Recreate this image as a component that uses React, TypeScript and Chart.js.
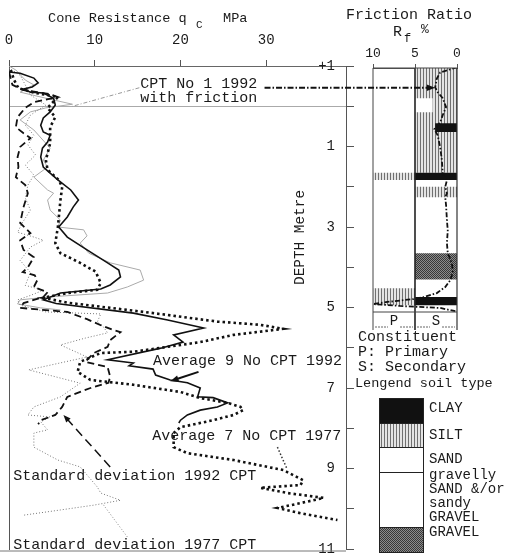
import React, { useEffect, useRef } from 'react';
import { Chart, registerables } from 'chart.js';

Chart.register(...registerables);

const MONO = '"Liberation Mono", "DejaVu Sans Mono", monospace';

// ---------- Cone resistance profiles: [depth (m), qc (MPa)] ----------
const avg1992CPT: [number, number][] = [
  [-0.85, 0], [-0.82, 1.3], [-0.7, 2.9], [-0.58, 3.4], [-0.48, 2.7], [-0.43, 1.7], [-0.35, 2.5], [-0.33, 4.0],
  [-0.2, 5.2], [-0.03, 5.4], [0.14, 4.8], [0.29, 4.0], [0.47, 3.7], [0.64, 4.0], [0.72, 4.8], [0.89, 4.5],
  [1.04, 3.9], [1.26, 3.7], [1.51, 4.0], [1.66, 4.8], [1.83, 5.7], [2.08, 7.2], [2.33, 8.1], [2.5, 7.5],
  [2.75, 6.8], [3.0, 5.8], [3.25, 6.8], [3.57, 9.1], [3.89, 11.5], [4.07, 12.8], [4.24, 13.0], [4.44, 11.8],
  [4.54, 10.7], [4.64, 6.0], [4.81, 4.0], [4.9, 5.5], [5.14, 14.5], [5.31, 18.5], [5.51, 22.7], [5.68, 19.2],
  [5.86, 20.3], [6.01, 17.7], [6.3, 11.5], [6.38, 14.5], [6.45, 14.0], [6.53, 16.8], [6.68, 17.1], [6.8, 18.8],
  [6.87, 20.8], [7.0, 22.3], [7.22, 22.0], [7.24, 23.8], [7.37, 25.5], [7.47, 24.3], [7.55, 22.3], [7.67, 20.8],
  [7.8, 20.0], [7.87, 19.8],
];
const avg1977CPT: [number, number][] = [
  [-0.9, 0.2], [-0.65, 0.6], [-0.45, 1.1], [-0.33, 3.1], [-0.23, 5.7], [0.04, 4.5], [0.27, 5.4], [0.52, 4.8],
  [0.92, 4.8], [1.34, 4.3], [1.58, 4.5], [1.83, 5.8], [2.01, 6.2], [2.33, 6.0], [3.0, 5.7], [3.4, 5.4],
  [3.65, 6.0], [3.89, 8.3], [4.11, 10.1], [4.39, 10.7], [4.56, 10.3], [4.64, 6.8], [4.76, 4.0], [4.88, 6.8],
  [5.13, 16.5], [5.35, 24.3], [5.43, 29.3], [5.53, 32.0], [5.68, 26.2], [5.86, 22.3], [6.1, 14.5], [6.13, 10.7],
  [6.35, 8.3], [6.6, 8.0], [6.8, 9.5], [6.92, 14.5], [7.1, 20.0], [7.25, 22.3], [7.37, 25.5], [7.47, 27.0],
  [7.55, 27.3], [7.67, 26.2], [7.8, 23.8], [7.92, 21.2], [7.97, 20.0], [8.12, 19.2], [8.47, 19.2], [8.62, 20.8],
  [8.79, 26.2], [9.04, 32.0], [9.29, 34.3], [9.41, 34.0], [9.48, 29.3], [9.61, 32.5], [9.73, 36.7], [9.86, 34.0],
  [9.98, 31.3], [10.11, 34.0], [10.28, 38.3],
];
const std1992CPT: [number, number][] = [
  [-0.85, 0], [-0.53, 0.4], [-0.4, 1.7], [-0.35, 3.3], [-0.3, 4.8], [-0.23, 5.7], [-0.1, 2.9], [0.04, 1.9],
  [0.27, 1.0], [0.52, 0.8], [0.67, 1.7], [0.79, 2.5], [1.01, 1.3], [1.26, 1.0], [1.51, 1.1], [1.76, 0.8],
  [1.96, 1.9], [2.16, 2.2], [2.5, 1.7], [2.9, 1.3], [3.15, 2.5], [3.33, 1.3], [3.57, 1.7], [3.75, 2.9],
  [4.0, 2.2], [4.12, 1.6], [4.2, 3.0], [4.32, 3.3], [4.49, 2.9], [4.62, 4.5], [4.74, 4.0], [4.89, 1.7],
  [5.01, 1.3], [5.11, 6.8], [5.29, 9.1], [5.44, 10.7], [5.56, 12.2], [5.61, 13.0], [5.81, 11.8], [5.98, 11.5],
  [6.13, 9.9], [6.35, 8.9], [6.48, 11.5], [6.72, 11.8], [6.87, 11.6], [7.0, 9.5], [7.22, 6.8], [7.47, 6.2],
  [7.67, 5.4], [7.8, 3.7], [7.9, 3.4],
];
const std1977CPT: [number, number][] = [
  [-0.95, 0], [-0.77, 1.3], [-0.53, 1.9], [-0.28, 2.5], [-0.03, 4.3], [0.22, 2.5], [0.47, 1.9], [0.72, 2.9],
  [0.96, 2.2], [1.21, 3.1], [1.46, 1.9], [1.71, 2.9], [1.96, 2.2], [2.28, 1.9], [2.58, 2.5], [2.88, 1.6],
  [3.13, 1.0], [3.25, 2.9], [3.33, 4.0], [3.5, 2.5], [3.83, 1.3], [4.13, 2.5], [4.45, 1.9], [4.57, 4.0],
  [4.7, 2.5], [4.81, 1.0], [4.94, 1.3], [5.11, 4.3], [5.16, 10.7], [5.36, 10.3], [5.48, 11.0], [5.63, 11.5],
  [5.76, 8.9], [5.93, 6.0], [6.23, 9.1], [6.55, 2.3], [6.88, 8.3], [7.22, 6.0], [7.47, 2.9], [7.67, 2.2],
  [7.72, 4.8], [7.84, 3.7], [8.04, 4.5], [8.12, 2.9], [8.47, 2.9], [8.79, 5.7], [8.96, 8.3], [9.46, 10.3],
  [9.61, 10.7], [9.79, 13.0], [9.91, 9.9], [10.03, 6.0], [10.16, 1.7],
];
const cptNo1_1992: [number, number][] = [
  [-1, 0], [-0.9, 0.8], [-0.65, 1.9], [-0.53, 2.9], [-0.35, 1.3], [-0.2, 4.3], [-0.05, 7.4], [0.04, 4.3],
  [0.14, 2.5], [0.34, 1.3], [0.59, 2.9], [1.04, 4.8], [1.34, 4.0], [1.51, 4.5], [1.76, 2.9], [2.08, 4.5],
  [2.16, 5.2], [2.33, 4.5], [2.58, 4.8], [2.83, 6.0], [3.0, 5.7], [3.07, 8.7], [3.22, 9.1], [3.4, 8.3],
  [3.65, 9.3], [3.89, 11.8], [4.07, 15.3], [4.32, 15.7], [4.49, 13.8], [4.64, 11.5], [4.74, 4.5], [4.81, 1.3],
  [4.91, 1.0], [5.01, 3.7], [5.06, 6.0],
];

// ---------- Friction ratio of CPT No 1: [depth (m), Rf (%)] ----------
const frictionRatioCPT1: [number, number][] = [
  [-0.97, 0], [-0.84, 2.0], [-0.69, 2.4], [-0.47, 2.6], [-0.35, 2.3], [-0.2, 1.7], [0.02, 1.3], [0.22, 1.7],
  [0.4, 2.0], [0.57, 2.7], [0.72, 2.3], [1.02, 2.0], [1.34, 1.8], [1.66, 1.7], [1.84, 1.2], [2.0, 1.4],
  [2.16, 1.2], [2.26, 1.4], [2.46, 1.3], [2.83, 1.2], [3.08, 1.1], [3.4, 1.2], [3.65, 1.1], [3.9, 0.6],
  [4.12, 0.5], [4.32, 0.8], [4.49, 1.4], [4.64, 2.4], [4.74, 4.0], [4.79, 5.2], [4.86, 8.3], [4.91, 10.0],
  [4.96, 6.8], [5.01, 2.0], [5.09, 0.2],
];

// ---------- Soil layers (constituent columns: P = Rf 10..5, S = Rf 5..0) ----------
const soilLayerType = ['SILT', 'SAND', 'CLAY', 'CLAY', 'SILT', 'SILT', 'GRAVEL', 'SILT', 'CLAY'];
const soilLayerTop = [-0.95, -0.2, 0.42, 1.65, 1.65, 2.0, 3.65, 4.52, 4.74];
const soilLayerBottom = [1.65, 0.15, 0.64, 1.83, 1.83, 2.26, 4.3, 4.94, 4.94];
const soilLayerRfFrom = [5, 5, 2.6, 5, 10, 5, 5, 10, 5];
const soilLayerRfTo = [0, 2.9, 0, 0, 5, 0, 0, 5, 0];

// ---------- Legend ----------
const legendSoilTypes = ['CLAY', 'SILT', 'SAND', 'SAND', 'GRAVEL'];
const legendSoilLabels = [['CLAY'], ['SILT'], ['SAND'], ['gravelly', 'SAND &/or', 'sandy', 'GRAVEL'], ['GRAVEL']];

// ---------- Ticks ----------
const qcTicks = [0, 10, 20, 30];
const rfTicks = [10, 5, 0];
const depthTicks = [-1, 0, 1, 2, 3, 4, 5, 6, 7, 8, 9, 10, 11];
const depthTickLabels = ['+1', '', '1', '', '3', '', '5', '', '7', '', '9', '', '11'];

function seg(ctx: any, x0: number, y0: number, x1: number, y1: number, color: string, width: number, dash: number[]) {
  ctx.save();
  ctx.strokeStyle = color;
  ctx.lineWidth = width;
  ctx.setLineDash(dash);
  ctx.beginPath();
  ctx.moveTo(x0, y0);
  ctx.lineTo(x1, y1);
  ctx.stroke();
  ctx.restore();
}
function arrowHead(ctx: any, x0: number, y0: number, x1: number, y1: number, size: number, color: string) {
  const a = Math.atan2(y1 - y0, x1 - x0);
  ctx.save();
  ctx.fillStyle = color;
  ctx.beginPath();
  ctx.moveTo(x1, y1);
  ctx.lineTo(x1 - size * Math.cos(a - 0.38), y1 - size * Math.sin(a - 0.38));
  ctx.lineTo(x1 - size * Math.cos(a + 0.38), y1 - size * Math.sin(a + 0.38));
  ctx.closePath();
  ctx.fill();
  ctx.restore();
}

function makePatterns() {
  const silt = document.createElement('canvas');
  silt.width = 3; silt.height = 3;
  const gs = silt.getContext('2d')!;
  gs.fillStyle = '#e4e4e4'; gs.fillRect(0, 0, 3, 3);
  gs.fillStyle = '#707070'; gs.fillRect(0, 0, 1, 3);
  const grav = document.createElement('canvas');
  grav.width = 2; grav.height = 2;
  const gg = grav.getContext('2d')!;
  gg.fillStyle = '#8c8c8c'; gg.fillRect(0, 0, 2, 2);
  gg.fillStyle = '#383838'; gg.fillRect(0, 0, 1, 1); gg.fillRect(1, 1, 1, 1);
  return {
    SILT: gs.createPattern(silt, 'repeat'),
    GRAVEL: gg.createPattern(grav, 'repeat'),
    CLAY: '#111111',
    SAND: '#ffffff',
  } as Record<string, any>;
}

const profile = (pts: [number, number][], color: string, width: number, dash: number[]) => ({
  data: pts.map(([d, v]) => ({ x: v, y: d })),
  borderColor: color,
  borderWidth: width,
  borderDash: dash,
  pointRadius: 0,
  fill: false,
  tension: 0,
  showLine: true,
});

export default function App() {
  const aRef = useRef<HTMLCanvasElement>(null);
  const bRef = useRef<HTMLCanvasElement>(null);

  useEffect(() => {
    const pats = makePatterns();

    const plugA = {
      id: 'annotA',
      afterDraw(chart: any) {
        const { ctx, chartArea: ca } = chart;
        const X = (v: number) => chart.scales.x.getPixelForValue(v);
        const Y = (d: number) => chart.scales.y.getPixelForValue(d);
        ctx.save();
        seg(ctx, 0, ca.bottom + 2, ca.right, ca.bottom + 2, '#777', 1, []);
        ctx.fillStyle = '#1a1a1a';
        ctx.textBaseline = 'middle';
        ctx.textAlign = 'left';
        ctx.font = `13.6px ${MONO}`;
        ctx.fillText('Cone Resistance q', 48, 18);
        ctx.font = `11px ${MONO}`;
        ctx.fillText('C', 196, 25);
        ctx.font = `13.6px ${MONO}`;
        ctx.fillText('MPa', 223, 18);
        // depth axis title
        ctx.save();
        ctx.translate(X(34.0), Y(3.26));
        ctx.rotate(-Math.PI / 2);
        ctx.textAlign = 'center';
        ctx.font = `14.4px ${MONO}`;
        ctx.fillText('DEPTH Metre', 0, 0);
        ctx.restore();
        // annotations
        ctx.font = `15px ${MONO}`;
        ctx.fillText('CPT No 1 1992', X(15.3), Y(-0.55));
        ctx.fillText('with friction', X(15.3), Y(-0.2));
        seg(ctx, X(15.2), Y(-0.46), X(7.4), Y(0), '#999', 1, [4, 2, 1, 2]);
        ctx.fillText('Average 9 No CPT 1992', X(16.8), Y(6.33));
        seg(ctx, X(22.1), Y(6.6), X(19.4), Y(6.79), '#111', 2, []);
        arrowHead(ctx, X(22.1), Y(6.6), X(18.8), Y(6.83), 9, '#111');
        ctx.fillText('Average 7 No CPT 1977', X(16.7), Y(8.19));
        seg(ctx, X(31.3), Y(8.47), X(32.4), Y(9.0), '#333', 1.5, [1.5, 2]);
        ctx.fillText('Standard deviation 1992 CPT', X(0.5), Y(9.19));
        seg(ctx, X(11.8), Y(8.96), X(6.35), Y(7.67), '#111', 1.5, [9, 5]);
        arrowHead(ctx, X(11.8), Y(8.96), X(6.35), Y(7.67), 8, '#111');
        ctx.fillText('Standard deviation 1977 CPT', X(0.5), Y(10.9));
        seg(ctx, X(13.8), Y(10.7), X(11.0), Y(9.9), '#888', 1, [1, 2]);
        ctx.restore();
      },
    };

    const chartA = new Chart(aRef.current!, {
      type: 'line',
      data: {
        datasets: [
          profile(avg1992CPT, '#111', 1.6, []),
          profile(avg1977CPT, '#111', 2.6, [2.5, 3]),
          profile(std1992CPT, '#111', 1.8, [7, 4]),
          profile(std1977CPT, '#777', 1, [1, 2]),
          profile(cptNo1_1992, '#aaa', 1, []),
        ] as any,
      },
      options: {
        responsive: false,
        animation: false,
        events: [],
        layout: { padding: { left: 9, right: 157, top: 0, bottom: 5 } },
        plugins: { legend: { display: false }, tooltip: { enabled: false } },
        scales: {
          x: {
            type: 'linear',
            position: 'top',
            min: 0,
            max: 39.3,
            afterBuildTicks: (axis: any) => { axis.ticks = qcTicks.map((v) => ({ value: v })); },
            afterFit: (axis: any) => { axis.height = 66; },
            ticks: {
              color: '#1a1a1a',
              font: { family: MONO, size: 14, lineHeight: 2.43 },
              padding: 3,
              callback: (v: any) => String(v),
            },
            grid: { drawOnChartArea: false, tickLength: 6, color: '#555' },
            border: { color: '#666' },
          },
          y: {
            type: 'linear',
            position: 'right',
            reverse: true,
            min: -1,
            max: 11,
            afterBuildTicks: (axis: any) => { axis.ticks = depthTicks.map((v) => ({ value: v })); },
            afterFit: (axis: any) => { axis.width = 8; },
            ticks: {
              mirror: true,
              padding: -11,
              color: '#1a1a1a',
              font: { family: MONO, size: 14 },
              callback: (v: any) => depthTickLabels[depthTicks.indexOf(v)] ?? '',
            },
            grid: {
              color: (c: any) => (c.tick && c.tick.value === 0 ? '#aaa' : 'rgba(0,0,0,0)'),
              tickColor: '#555',
              tickLength: 8,
            },
            border: { color: '#555' },
          },
          yl: {
            type: 'linear',
            position: 'left',
            reverse: true,
            min: -1,
            max: 11,
            afterFit: (axis: any) => { axis.width = 0; },
            ticks: { display: false },
            grid: { display: false },
            border: { color: '#555' },
          },
        },
      } as any,
      plugins: [plugA],
    });

    const plugB = {
      id: 'annotB',
      afterDraw(chart: any) {
        const { ctx, chartArea: ca } = chart;
        const X = (v: number) => chart.scales.x.getPixelForValue(v);
        const Y = (d: number) => chart.scales.y.getPixelForValue(d);
        const xl = X(10), xm = X(5), xr = X(0);
        ctx.save();
        // frame
        seg(ctx, xl, ca.top, xl, ca.bottom + 18, '#444', 1, []);
        seg(ctx, xm, ca.top, xm, ca.bottom + 18, '#222', 1.6, []);
        seg(ctx, xr, ca.top, xr, ca.bottom + 18, '#333', 1.2, []);
        seg(ctx, xl, ca.top, xr, ca.top, '#444', 1, []);
        seg(ctx, xl, ca.bottom, xr, ca.bottom, '#444', 1, []);
        // P / S bracket
        const by = ca.bottom + 15;
        ctx.fillStyle = '#1a1a1a';
        ctx.textBaseline = 'middle';
        ctx.textAlign = 'center';
        ctx.font = `14px ${MONO}`;
        const pc = (xl + xm) / 2, sc = (xm + xr) / 2;
        ctx.fillText('P', pc, by - 6);
        ctx.fillText('S', sc, by - 6);
        seg(ctx, xl + 2, by, pc - 6, by, '#666', 1, [2, 1]);
        seg(ctx, pc + 6, by, xm - 2, by, '#666', 1, [2, 1]);
        seg(ctx, xm + 2, by, sc - 6, by, '#666', 1, [2, 1]);
        seg(ctx, sc + 6, by, xr - 2, by, '#666', 1, [2, 1]);
        // constituent texts
        ctx.textAlign = 'left';
        ctx.font = `15px ${MONO}`;
        ctx.fillText('Constituent', 358, 337);
        ctx.fillText('P: Primary', 358, 352);
        ctx.fillText('S: Secondary', 358, 367);
        ctx.font = `13.5px ${MONO}`;
        ctx.fillText('Lengend soil type', 355, 383);
        // legend boxes
        const heights = [25, 24, 25, 55, 25];
        const labelY = [[408], [435], [459], [475, 489, 503, 517], [532]];
        let top = 398;
        ctx.font = `14px ${MONO}`;
        legendSoilTypes.forEach((t, i) => {
          ctx.fillStyle = pats[t];
          ctx.fillRect(379, top, 44, heights[i]);
          ctx.strokeStyle = '#222';
          ctx.lineWidth = 1;
          ctx.strokeRect(379.5, top + 0.5, 44, heights[i]);
          ctx.fillStyle = '#1a1a1a';
          legendSoilLabels[i].forEach((s, k) => ctx.fillText(s, 429, labelY[i][k]));
          top += heights[i];
        });
        // titles
        ctx.textAlign = 'center';
        ctx.font = `15px ${MONO}`;
        ctx.fillText('Friction Ratio', 409, 15);
        ctx.textAlign = 'left';
        ctx.fillText('R', 393, 32);
        ctx.font = `12px ${MONO}`;
        ctx.fillText('f', 404, 39);
        ctx.font = `13px ${MONO}`;
        ctx.fillText('%', 421, 30);
        // leader arrow from CPT No 1 label to friction profile
        const ax = chartA.scales.x.getPixelForValue(29.8);
        const ay = Y(-0.46);
        const tip = X(2.6);
        seg(ctx, ax, ay, tip - 6, ay, '#111', 2, [6, 2, 1.5, 2]);
        arrowHead(ctx, ax, ay, tip, ay, 9, '#111');
        ctx.restore();
      },
    };

    const layerSets = soilLayerType.map((t, i) => ({
      data: [
        { x: soilLayerRfFrom[i], y: soilLayerTop[i] },
        { x: soilLayerRfTo[i], y: soilLayerTop[i] },
        { x: soilLayerRfTo[i], y: soilLayerBottom[i] },
        { x: soilLayerRfFrom[i], y: soilLayerBottom[i] },
        { x: soilLayerRfFrom[i], y: soilLayerTop[i] },
      ],
      fill: 'shape',
      backgroundColor: pats[t],
      borderColor: 'rgba(0,0,0,0)',
      borderWidth: 1,
      pointRadius: 0,
      tension: 0,
    }));

    const chartB = new Chart(bRef.current!, {
      type: 'line',
      data: {
        datasets: [
          profile(frictionRatioCPT1, '#111', 1.8, [5, 2, 1.5, 2]),
          ...layerSets.slice().reverse(),
        ] as any,
      },
      options: {
        responsive: false,
        animation: false,
        events: [],
        layout: { padding: { left: 373, right: 54, top: 0, bottom: 242 } },
        plugins: { legend: { display: false }, tooltip: { enabled: false } },
        scales: {
          x: {
            type: 'linear',
            position: 'top',
            reverse: true,
            min: 0,
            max: 10,
            afterBuildTicks: (axis: any) => { axis.ticks = rfTicks.map((v) => ({ value: v })); },
            afterFit: (axis: any) => { axis.height = 68; },
            ticks: { color: '#1a1a1a', font: { family: MONO, size: 13 }, padding: 3, callback: (v: any) => String(v) },
            grid: { drawOnChartArea: false, tickLength: 4, color: '#555' },
            border: { color: '#555' },
          },
          y: { type: 'linear', reverse: true, min: -0.95, max: 5.11, display: false },
        },
      } as any,
      plugins: [plugB],
    });

    return () => {
      chartB.destroy();
      chartA.destroy();
    };
  }, []);

  return (
    <div style={{ position: 'absolute', left: 0, top: 0, width: 511, height: 554, background: '#fff', overflow: 'hidden' }}>
      <canvas ref={aRef} width={511} height={554} style={{ position: 'absolute', left: 0, top: 0 }} />
      <canvas ref={bRef} width={511} height={554} style={{ position: 'absolute', left: 0, top: 0 }} />
    </div>
  );
}
